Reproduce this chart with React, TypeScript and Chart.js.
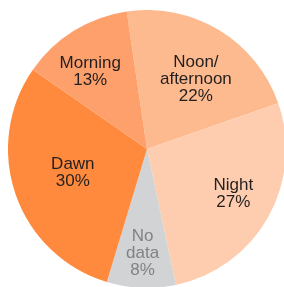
import React, { useEffect, useRef } from "react";
import { Chart, registerables } from "chart.js";

Chart.register(...registerables);

const categories = ["Noon/\nafternoon", "Night", "No\ndata", "Dawn", "Morning"];
const values = [22, 27, 8, 30, 13];
const valueLabels = ["22%", "27%", "8%", "30%", "13%"];
const colors = ["#FDBA8E", "#FECDAF", "#D1D3D4", "#FF8A3D", "#FDA06C"];
const textColors = ["#231F20", "#231F20", "#808285", "#231F20", "#231F20"];
const labelRadius = [0.61, 0.7, 0.75, 0.56, 0.69];
const angleShift = [4, -2, 0, 1.5, -4.5];

const labelPlugin = {
  id: "sliceLabels",
  afterDatasetsDraw(chart: any) {
    const ctx = chart.ctx;
    const meta = chart.getDatasetMeta(0);
    ctx.save();
    ctx.font = "17px 'Liberation Sans', Arial, sans-serif";
    ctx.textAlign = "center";
    ctx.textBaseline = "middle";
    meta.data.forEach((arc: any, i: number) => {
      const { x, y, startAngle, endAngle, outerRadius } = arc.getProps(
        ["x", "y", "startAngle", "endAngle", "outerRadius"],
        true
      );
      const mid = (startAngle + endAngle) / 2 + (angleShift[i] * Math.PI) / 180;
      const r = outerRadius * labelRadius[i];
      const cx = x + Math.cos(mid) * r;
      const cy = y + Math.sin(mid) * r;
      const lines = [...categories[i].split("\n"), valueLabels[i]];
      const lh = 17;
      const top = cy - ((lines.length - 1) * lh) / 2;
      ctx.fillStyle = textColors[i];
      lines.forEach((ln, k) => ctx.fillText(ln, cx, top + k * lh));
    });
    ctx.restore();
  },
};

export default function App() {
  const ref = useRef<HTMLCanvasElement>(null);
  useEffect(() => {
    if (!ref.current) return;
    const chart = new Chart(ref.current, {
      type: "pie",
      data: {
        labels: categories,
        datasets: [
          {
            data: values,
            backgroundColor: colors,
            borderWidth: 0,
          },
        ],
      },
      options: {
        animation: false,
        responsive: false,
        rotation: -8.4,
        layout: { padding: 0 },
        plugins: {
          legend: { display: false },
          tooltip: { enabled: false },
        },
      },
      plugins: [labelPlugin],
    });
    return () => chart.destroy();
  }, []);
  return (
    <div
      style={{
        position: "fixed",
        left: 0,
        top: 0,
        width: 284,
        height: 287,
        overflow: "hidden",
        background: "#fff",
      }}
    >
      <canvas
        ref={ref}
        width={278}
        height={278}
        style={{ position: "absolute", left: 8, top: 10, width: 278, height: 278 }}
      />
    </div>
  );
}
